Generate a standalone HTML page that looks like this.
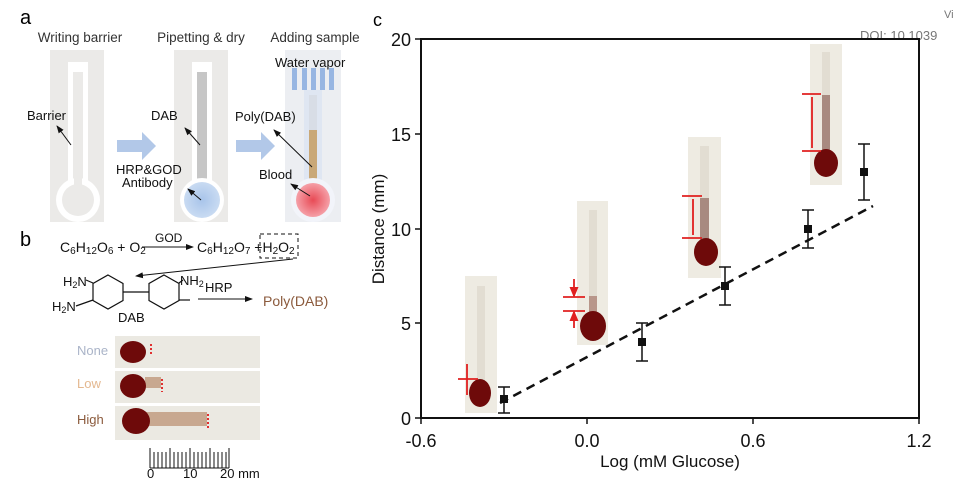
<!DOCTYPE html>
<html><head><meta charset="utf-8"><style>
html,body{margin:0;padding:0;background:#fff;}
svg{display:block;font-family:"Liberation Sans",Arial,sans-serif;}
</style></head><body>
<svg width="955" height="480" viewBox="0 0 955 480" xmlns="http://www.w3.org/2000/svg">
<defs>
<marker id="ah" markerWidth="8" markerHeight="8" refX="7" refY="4" orient="auto"><path d="M0,1 L8,4 L0,7 z" fill="#111"/></marker>
<marker id="rh" markerWidth="6" markerHeight="6" refX="5" refY="3" orient="auto"><path d="M0,0.5 L6,3 L0,5.5 z" fill="#e02020"/></marker>
<radialGradient id="bl" cx="50%" cy="50%" r="50%"><stop offset="0" stop-color="#a8c4ea"/><stop offset="1" stop-color="#c9dbf2"/></radialGradient>
<radialGradient id="rd" cx="50%" cy="50%" r="50%"><stop offset="0" stop-color="#e84a55"/><stop offset="1" stop-color="#f5a0a8"/></radialGradient>
</defs>
<!-- Panel a -->
<text x="20" y="24" font-size="20">a</text>
<text x="80" y="42" font-size="13.5" text-anchor="middle" fill="#333">Writing barrier</text>
<text x="201" y="42" font-size="13.5" text-anchor="middle" fill="#333">Pipetting &amp; dry</text>
<text x="315" y="42" font-size="13.5" text-anchor="middle" fill="#333">Adding sample</text>
<g>
<rect x="50" y="50" width="54" height="172" fill="#ebeae8"/>
<rect x="68" y="62" width="20" height="120" fill="#fff"/><rect x="73" y="72" width="10" height="112" fill="#ebeae8"/>
<circle cx="78" cy="200" r="22" fill="#fff"/><circle cx="78" cy="200" r="16" fill="#ebeae8"/>
<rect x="74" y="176" width="8" height="12" fill="#ebeae8"/>
<rect x="174" y="50" width="54" height="172" fill="#ebeae8"/>
<rect x="192" y="62" width="20" height="120" fill="#fff"/><rect x="197" y="72" width="10" height="112" fill="#c6c6c6"/>
<circle cx="202" cy="200" r="22" fill="#fff"/><circle cx="202" cy="200" r="18" fill="url(#bl)"/>
<rect x="285" y="50" width="56" height="172" fill="#eceef2"/>
<rect x="304" y="90" width="18" height="95" fill="#dfe6f2"/>
<rect x="309" y="130" width="8" height="52" fill="#c9a878"/>
<rect x="309" y="95" width="8" height="35" fill="#d8dde6"/>
<circle cx="313" cy="200" r="22" fill="#f2f4fa"/><circle cx="313" cy="200" r="17" fill="url(#rd)"/>
<g fill="#98b6e2"><rect x="292" y="68" width="5" height="22"/><rect x="302" y="68" width="5" height="22"/><rect x="311" y="68" width="5" height="22"/><rect x="320" y="68" width="5" height="22"/><rect x="329" y="68" width="5" height="22"/></g>
<path d="M117,140 h25 v-8 l14,14 l-14,14 v-8 h-25z" fill="#b2c8e8"/>
<path d="M236,140 h25 v-8 l14,14 l-14,14 v-8 h-25z" fill="#b2c8e8"/>
</g>
<g font-size="13" fill="#111">
<text x="27" y="120">Barrier</text>
<line x1="71" y1="145" x2="57" y2="126" stroke="#111" marker-end="url(#ah)"/>
<text x="151" y="120">DAB</text>
<line x1="200" y1="145" x2="185" y2="128" stroke="#111" marker-end="url(#ah)"/>
<text x="116" y="174">HRP&amp;GOD</text>
<text x="122" y="187">Antibody</text>
<line x1="201" y1="200" x2="188" y2="189" stroke="#111" marker-end="url(#ah)"/>
<text x="235" y="121">Poly(DAB)</text>
<line x1="312" y1="167" x2="274" y2="130" stroke="#111" marker-end="url(#ah)"/>
<text x="259" y="179">Blood</text>
<line x1="310" y1="196" x2="291" y2="184" stroke="#111" marker-end="url(#ah)"/>
<text x="275" y="67">Water vapor</text>
</g>
<!-- Panel b -->
<text x="20" y="246" font-size="20">b</text>
<g font-size="14" fill="#111">
<text x="60" y="252">C<tspan font-size="10" dy="2">6</tspan><tspan dy="-2">H</tspan><tspan font-size="10" dy="2">12</tspan><tspan dy="-2">O</tspan><tspan font-size="10" dy="2">6</tspan><tspan dy="-2"> + O</tspan><tspan font-size="10" dy="2">2</tspan></text>
<line x1="142" y1="247" x2="193" y2="247" stroke="#111" marker-end="url(#ah)"/>
<text x="155" y="242" font-size="12">GOD</text>
<text x="197" y="252">C<tspan font-size="10" dy="2">6</tspan><tspan dy="-2">H</tspan><tspan font-size="10" dy="2">12</tspan><tspan dy="-2">O</tspan><tspan font-size="10" dy="2">7</tspan><tspan dy="-2"> +H</tspan><tspan font-size="10" dy="2">2</tspan><tspan dy="-2">O</tspan><tspan font-size="10" dy="2">2</tspan></text>
<rect x="260" y="234" width="38" height="24" fill="none" stroke="#111" stroke-dasharray="4,3"/>
<line x1="293" y1="259" x2="136" y2="276" stroke="#111" marker-end="url(#ah)"/>
<text x="63" y="286" font-size="13">H<tspan font-size="9" dy="2">2</tspan><tspan dy="-2">N</tspan></text>
<text x="52" y="311" font-size="13">H<tspan font-size="9" dy="2">2</tspan><tspan dy="-2">N</tspan></text>
<text x="180" y="285" font-size="13">NH<tspan font-size="9" dy="2">2</tspan></text>
<g fill="none" stroke="#111" stroke-width="1.2">
<polygon points="108,275 123,283.5 123,300.5 108,309 93,300.5 93,283.5"/>
<polygon points="164,275 179,283.5 179,300.5 164,309 149,300.5 149,283.5"/>
<line x1="123" y1="292" x2="149" y2="292"/>
<line x1="93" y1="283" x2="86" y2="280"/><line x1="93" y1="300" x2="76" y2="306"/>
<line x1="179" y1="283" x2="183" y2="280"/><line x1="179" y1="300" x2="190" y2="300"/>
</g>
<text x="118" y="322" font-size="13">DAB</text>
<line x1="198" y1="299" x2="252" y2="299" stroke="#111" marker-end="url(#ah)"/>
<text x="205" y="292" font-size="13">HRP</text>
<text x="263" y="306" font-size="14" fill="#8b5a3c">Poly(DAB)</text>
</g>
<g>
<rect x="115" y="336" width="145" height="32" fill="#ebe9e2"/>
<rect x="115" y="371" width="145" height="32" fill="#ebe9e2"/>
<rect x="115" y="406" width="145" height="34" fill="#ebe9e2"/>
<ellipse cx="133" cy="352" rx="13" ry="11" fill="#6e0a0a"/>
<rect x="145" y="377" width="16" height="11" fill="#c8a890"/>
<ellipse cx="133" cy="386" rx="13" ry="12" fill="#6e0a0a"/>
<rect x="143" y="412" width="64" height="14" fill="#c8a890"/>
<ellipse cx="136" cy="421" rx="14" ry="13" fill="#6e0a0a"/>
<g stroke="#e03030" stroke-width="2" stroke-dasharray="2,2"><line x1="151" y1="344" x2="151" y2="356"/><line x1="162" y1="379" x2="162" y2="392"/><line x1="208" y1="414" x2="208" y2="428"/></g>
</g>
<g font-size="13"><text x="77" y="355" fill="#aab4c8">None</text><text x="77" y="388" fill="#e4b890">Low</text><text x="77" y="424" fill="#8b5a3c">High</text></g>
<g stroke="#111" stroke-width="1">
<path d="M150,448v20M154,452v16M158,452v16M162,452v16M166,452v16M170,448v20M174,452v16M178,452v16M182,452v16M186,452v16M190,448v20M194,452v16M198,452v16M202,452v16M206,452v16M210,448v20M214,452v16M218,452v16M222,452v16M226,452v16M229,448v20"/>
<line x1="150" y1="468" x2="229" y2="468"/>
</g>
<g font-size="13" fill="#111"><text x="147" y="478">0</text><text x="183" y="478">10</text><text x="220" y="478">20 mm</text></g>
<!-- Panel c -->
<text x="373" y="26" font-size="18">c</text>
<text x="944" y="18" font-size="11" fill="#777">Vi</text>
<text x="860" y="40" font-size="13" fill="#777">DOI: 10.1039</text>
<g>
<rect x="465" y="276" width="32" height="137" fill="#eeebe2"/><rect x="477" y="286" width="8" height="100" fill="#e2ddd2"/>
<rect x="577" y="201" width="31" height="144" fill="#eeebe2"/><rect x="589" y="210" width="8" height="100" fill="#e2ddd2"/><rect x="589" y="296" width="8" height="18" fill="#b8968a"/>
<rect x="688" y="137" width="33" height="141" fill="#eeebe2"/><rect x="700" y="146" width="9" height="90" fill="#e2ddd2"/><rect x="700" y="198" width="9" height="45" fill="#a88a80"/>
<rect x="810" y="44" width="32" height="141" fill="#eeebe2"/><rect x="822" y="52" width="8" height="90" fill="#e2ddd2"/><rect x="822" y="95" width="8" height="58" fill="#a88a80"/>
<ellipse cx="480" cy="393" rx="11" ry="14" fill="#6e0a0a"/>
<ellipse cx="593" cy="326" rx="13" ry="15" fill="#6e0a0a"/>
<ellipse cx="706" cy="252" rx="12" ry="14" fill="#6e0a0a"/>
<ellipse cx="826" cy="163" rx="12" ry="14" fill="#6e0a0a"/>
</g>
<g stroke="#e02020" stroke-width="1.8" fill="none">
<line x1="458" y1="379" x2="478" y2="379"/><line x1="467" y1="364" x2="467" y2="395"/>
<line x1="563" y1="297" x2="585" y2="297"/><line x1="563" y1="311" x2="585" y2="311"/><line x1="574" y1="279" x2="574" y2="296" marker-end="url(#rh)"/><line x1="574" y1="328" x2="574" y2="312" marker-end="url(#rh)"/>
<line x1="682" y1="196" x2="702" y2="196"/><line x1="682" y1="238" x2="702" y2="238"/><line x1="693" y1="199" x2="693" y2="235"/>
<line x1="802" y1="94" x2="821" y2="94"/><line x1="802" y1="151" x2="821" y2="151"/><line x1="812" y1="97" x2="812" y2="148"/>
</g>
<rect x="421" y="39" width="498" height="379" fill="none" stroke="#111" stroke-width="2"/>
<g stroke="#111" stroke-width="1.5">
<line x1="415" y1="39" x2="421" y2="39"/><line x1="415" y1="134" x2="421" y2="134"/><line x1="415" y1="229" x2="421" y2="229"/><line x1="415" y1="323" x2="421" y2="323"/><line x1="415" y1="418" x2="421" y2="418"/>
<line x1="421" y1="418" x2="421" y2="424"/><line x1="587" y1="418" x2="587" y2="424"/><line x1="753" y1="418" x2="753" y2="424"/><line x1="919" y1="418" x2="919" y2="424"/>
</g>
<g font-size="18" fill="#111" text-anchor="end">
<text x="411" y="46">20</text><text x="411" y="141">15</text><text x="411" y="236">10</text><text x="411" y="330">5</text><text x="411" y="425">0</text>
</g>
<g font-size="18" fill="#111" text-anchor="middle">
<text x="421" y="447">-0.6</text><text x="587" y="447">0.0</text><text x="753" y="447">0.6</text><text x="919" y="447">1.2</text>
<text x="670" y="467" font-size="17">Log (mM Glucose)</text>
</g>
<text transform="translate(384,229) rotate(-90)" font-size="17" text-anchor="middle" fill="#111">Distance (mm)</text>
<line x1="500" y1="403" x2="873" y2="206" stroke="#111" stroke-width="2.5" stroke-dasharray="9,6"/>
<g stroke="#111" stroke-width="1.5">
<line x1="504" y1="387" x2="504" y2="413"/><line x1="498" y1="387" x2="510" y2="387"/><line x1="498" y1="413" x2="510" y2="413"/>
<line x1="642" y1="323" x2="642" y2="361"/><line x1="636" y1="323" x2="648" y2="323"/><line x1="636" y1="361" x2="648" y2="361"/>
<line x1="725" y1="267" x2="725" y2="305"/><line x1="719" y1="267" x2="731" y2="267"/><line x1="719" y1="305" x2="731" y2="305"/>
<line x1="808" y1="210" x2="808" y2="248"/><line x1="802" y1="210" x2="814" y2="210"/><line x1="802" y1="248" x2="814" y2="248"/>
<line x1="864" y1="144" x2="864" y2="200"/><line x1="858" y1="144" x2="870" y2="144"/><line x1="858" y1="200" x2="870" y2="200"/>
</g>
<g fill="#111">
<rect x="500" y="395" width="8" height="8"/><rect x="638" y="338" width="8" height="8"/><rect x="721" y="282" width="8" height="8"/><rect x="804" y="225" width="8" height="8"/><rect x="860" y="168" width="8" height="8"/>
</g>
</svg>
</body></html>
